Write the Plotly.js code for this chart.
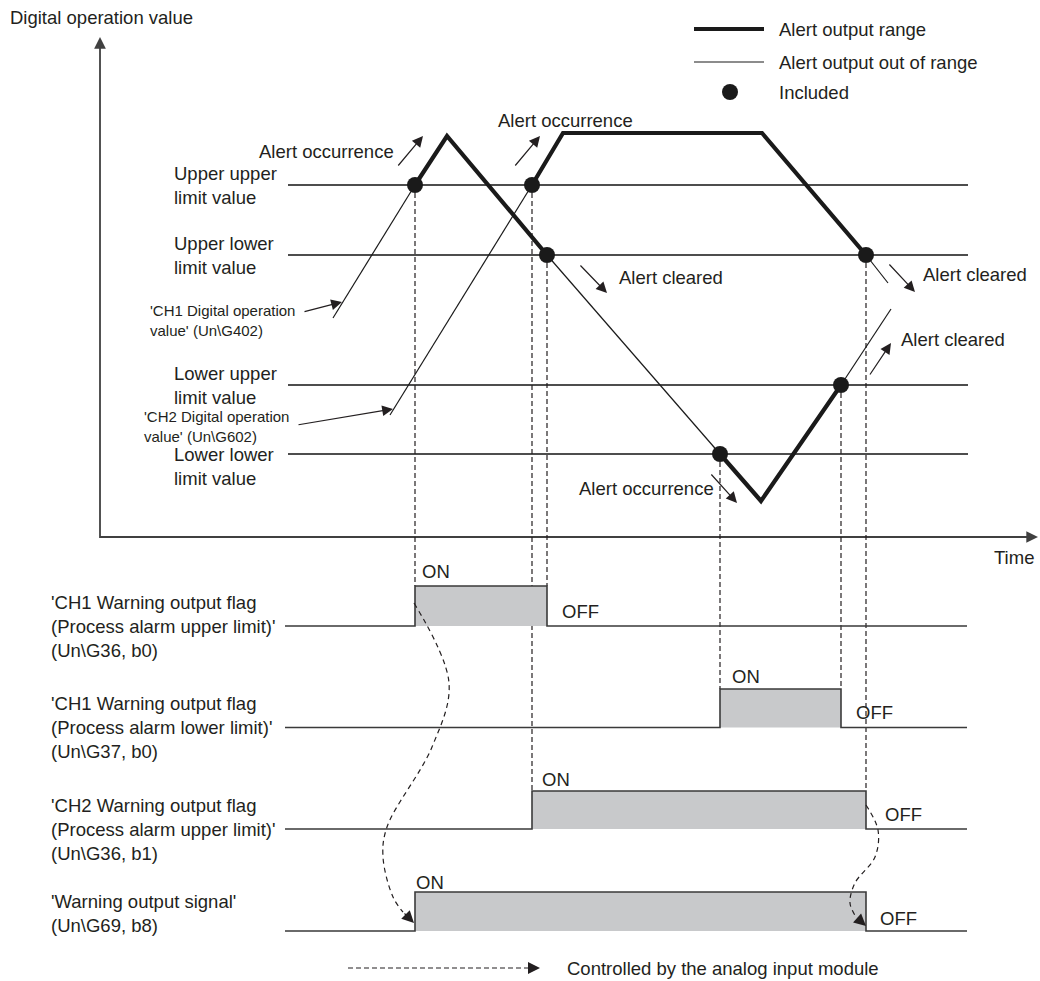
<!DOCTYPE html>
<html><head><meta charset="utf-8">
<script src="https://cdn.plot.ly/plotly-3.0.1.min.js"></script>
<style>html,body{margin:0;padding:0;background:#fff}#chart{width:1040px;height:981px}</style>
</head><body><div id="chart"></div>
<script>
// ---------------- data (time units, value units) ----------------
const limitLabels = ['Upper upper<br>limit value', 'Upper lower<br>limit value', 'Lower upper<br>limit value', 'Lower lower<br>limit value'];
const limitValues = [352, 282, 152, 83];

const ch1Time  = [234, 316, 348, 448, 621, 662, 742, 792];
const ch1Value = [219, 352, 401, 282, 83, 36, 152, 228];
const ch1SegmentInRange = [0, 1, 1, 0, 1, 1, 0];

const ch2Time  = [291, 433, 464, 663, 767, 789];
const ch2Value = [122, 352, 404, 404, 282, 254];
const ch2SegmentInRange = [0, 1, 1, 1, 0];

const includedTime  = [316, 448, 621, 742, 433, 767];
const includedValue = [352, 282, 83, 152, 352, 282];
const includedFlag  = [0, 0, 1, 1, 2, 2];

const flagLabels = [
  "'CH1 Warning output flag<br>(Process alarm upper limit)'<br>(Un\\G36, b0)",
  "'CH1 Warning output flag<br>(Process alarm lower limit)'<br>(Un\\G37, b0)",
  "'CH2 Warning output flag<br>(Process alarm upper limit)'<br>(Un\\G36, b1)",
  "'Warning output signal'<br>(Un\\G69, b8)"
];
const flagOnTime  = [316, 621, 433, 316];
const flagOffTime = [448, 742, 767, 767];

const ctrl1Time  = [315, 350, 333, 288, 284, 294, 304];
const ctrl1Value = [-66, -146, -210, -290, -320, -360, -375];
const ctrl2Time  = [767, 779, 776, 756, 751, 757];
const ctrl2Value = [-268, -293, -320, -346, -366, -380];

// ---------------- layout geometry ----------------
const W = 1040, H = 981;
const xr = [-99, 941], yr = [-444, 537];
const limitSpan = [189, 869];
const flagSpan = [186, 868];
const flagBandsPx = [[586, 626], [689, 727.5], [791, 829], [892, 931]];
const pad = 0.25;
const pxToPaper = py => 1 - py / H;
const ink = '#231f20';
const mainFont = {family: 'Liberation Sans, Arial, sans-serif', size: 18.5, color: ink};
const smallFont = {family: 'Liberation Sans, Arial, sans-serif', size: 15, color: ink};

const layout = {
  width: W, height: H, margin: {l: 0, r: 0, t: 0, b: 0},
  paper_bgcolor: '#ffffff', plot_bgcolor: 'rgba(0,0,0,0)', showlegend: false, hovermode: false,
  xaxis: {range: xr, domain: [0, 1], visible: false, fixedrange: true},
  yaxis: {range: yr, domain: [0, 1], visible: false, fixedrange: true}
};
flagBandsPx.forEach(([top, base], i) => {
  const h = base - top;
  layout['yaxis' + (i + 2)] = {domain: [pxToPaper(base + pad * h), pxToPaper(top - pad * h)],
    range: [-pad, 1 + pad], visible: false, anchor: 'x', fixedrange: true};
});
layout.yaxis6 = {range: yr, domain: [0, 1], visible: false, anchor: 'x', fixedrange: true};

function flagTopV(i) {
  const ax = layout['yaxis' + (i + 2)];
  const frac = (1 - ax.range[0]) / (ax.range[1] - ax.range[0]);
  const paper = ax.domain[0] + frac * (ax.domain[1] - ax.domain[0]);
  return yr[0] + paper * (yr[1] - yr[0]);
}

// ---------------- traces ----------------
const traces = [];
const limX = [], limY = [];
limitValues.forEach(v => { limX.push(limitSpan[0], limitSpan[1], null); limY.push(v, v, null); });
traces.push({x: limX, y: limY, mode: 'lines', line: {color: '#4d4d4d', width: 1.8}});

// axes
traces.push({x: [1, 1, 929], y: [490, 0, 0], mode: 'lines', line: {color: '#404040', width: 1.8}});

// dashed connectors from included points to flags
const conX = [], conY = [];
includedTime.forEach((t, i) => { conX.push(t, t, null); conY.push(includedValue[i], flagTopV(includedFlag[i]), null); });
traces.push({x: conX, y: conY, mode: 'lines', line: {color: '#231f20', width: 1.2, dash: '5px,3px'}});

function splitSegments(ts, vs, inRange) {
  const thick = {x: [], y: []}, thin = {x: [], y: []};
  for (let i = 0; i < ts.length - 1; i++) {
    const tgt = inRange[i] ? thick : thin;
    if (i > 0 && inRange[i - 1] === inRange[i]) { tgt.x.push(ts[i + 1]); tgt.y.push(vs[i + 1]); }
    else {
      if (tgt.x.length) { tgt.x.push(null); tgt.y.push(null); }
      tgt.x.push(ts[i], ts[i + 1]); tgt.y.push(vs[i], vs[i + 1]);
    }
  }
  return {thick, thin};
}
[splitSegments(ch1Time, ch1Value, ch1SegmentInRange), splitSegments(ch2Time, ch2Value, ch2SegmentInRange)].forEach(s => {
  traces.push({x: s.thin.x, y: s.thin.y, mode: 'lines', line: {color: '#1a1a1a', width: 1.2}});
  traces.push({x: s.thick.x, y: s.thick.y, mode: 'lines', line: {color: '#1a1a1a', width: 4.2, simplify: false}});
});
traces.push({x: includedTime, y: includedValue, mode: 'markers', marker: {size: 16, color: '#1a1a1a'}});

// legend glyphs (top right)
traces.push({x: [595, 665], y: [508, 508], mode: 'lines', line: {color: '#1a1a1a', width: 4.2}});
traces.push({x: [595, 665], y: [475, 475], mode: 'lines', line: {color: '#1a1a1a', width: 1.2}});
traces.push({x: [631], y: [445], mode: 'markers', marker: {size: 16, color: '#1a1a1a'}});

// flags
flagOnTime.forEach((on, i) => {
  traces.push({x: [flagSpan[0], on, flagOffTime[i], flagSpan[1]], y: [0, 1, 0, 0],
    yaxis: 'y' + (i + 2), mode: 'lines', line: {shape: 'hv', color: '#3a3a3a', width: 1.6},
    fill: 'tozeroy', fillcolor: '#c8c9cb'});
});

// control curves + bottom legend dashed line (drawn above flags)
traces.push({x: ctrl1Time, y: ctrl1Value, yaxis: 'y6', mode: 'lines', line: {shape: 'spline', color: ink, width: 1.2, dash: '5px,4px'}});
traces.push({x: ctrl2Time, y: ctrl2Value, yaxis: 'y6', mode: 'lines', line: {shape: 'spline', color: ink, width: 1.2, dash: '5px,4px'}});
traces.push({x: [249, 431], y: [-431, -431], yaxis: 'y6', mode: 'lines', line: {color: ink, width: 1.2, dash: '5px,3px'}});

// ---------------- annotations ----------------
const annotations = [];
function label(text, x, y, opts) {
  annotations.push(Object.assign({text, x, y, xref: 'x', yref: 'y', showarrow: false, xanchor: 'left',
    yanchor: 'middle', align: 'left', font: mainFont}, opts || {}));
}
function arrow(tail, tip, opts) {
  annotations.push(Object.assign({text: '', x: tip[0], y: tip[1], ax: tail[0], ay: tail[1], xref: 'x', yref: 'y',
    axref: 'x', ayref: 'y', showarrow: true, arrowhead: 2, arrowsize: 1.8, arrowwidth: 1.2, arrowcolor: ink,
    standoff: 0}, opts || {}));
}

label('Digital operation value', -91, 520);
label('Time', 937, -20, {xanchor: 'right'});
arrow([1, 488], [1, 500], {arrowwidth: 1.8, arrowsize: 1.3, arrowcolor: '#404040'});
arrow([927, 0], [939, 0], {arrowwidth: 1.8, arrowsize: 1.3, arrowcolor: '#404040'});

const limitShift = [0, 0, 0, -12];
limitLabels.forEach((t, i) => label(t, 73, limitValues[i], {yshift: limitShift[i]}));

label("'CH1 Digital operation<br>value' (Un\\G402)", 198, 217, {xanchor: 'right', font: smallFont});
arrow([204, 225], [243, 235]);
label("'CH2 Digital operation<br>value' (Un\\G602)", 192, 111, {xanchor: 'right', font: smallFont});
arrow([198, 112], [294, 128]);

label('Alert occurrence', 158, 386);
arrow([298, 370], [324, 401]);
label('Alert occurrence', 397, 417);
arrow([415, 370], [441, 401]);
label('Alert cleared', 518, 260);
arrow([480, 273], [508, 244]);
label('Alert cleared', 822, 263);
arrow([789, 274], [816, 245]);
label('Alert cleared', 800, 198);
arrow([770, 161], [792, 194]);
label('Alert occurrence', 478, 49);
arrow([611, 64], [638, 34]);

label('Alert output range', 678, 508);
label('Alert output out of range', 678, 475);
label('Included', 678, 445);

flagLabels.forEach((t, i) => label(t, -50, i === 3 ? 0.46 : 0, {yref: 'y' + (i + 2)}));
const onTimes = [321, 631, 441, 315], onShift = [15, 13, 12, 10];
const offTimes = [461, 755, 784, 779], offLevel = [0.36, 0.40, 0.39, 0.31];
onTimes.forEach((t, i) => label('ON', t, 1, {yref: 'y' + (i + 2), yshift: onShift[i]}));
offTimes.forEach((t, i) => label('OFF', t, offLevel[i], {yref: 'y' + (i + 2)}));

arrow([304, -375], [315, -386], {arrowsize: 2});
arrow([757, -380], [767, -389], {arrowsize: 2});
arrow([430, -431], [441, -431], {arrowsize: 2});
label('Controlled by the analog input module', 466, -431);

layout.annotations = annotations;
Plotly.newPlot('chart', traces, layout, {staticPlot: true});
</script>
</body></html>
